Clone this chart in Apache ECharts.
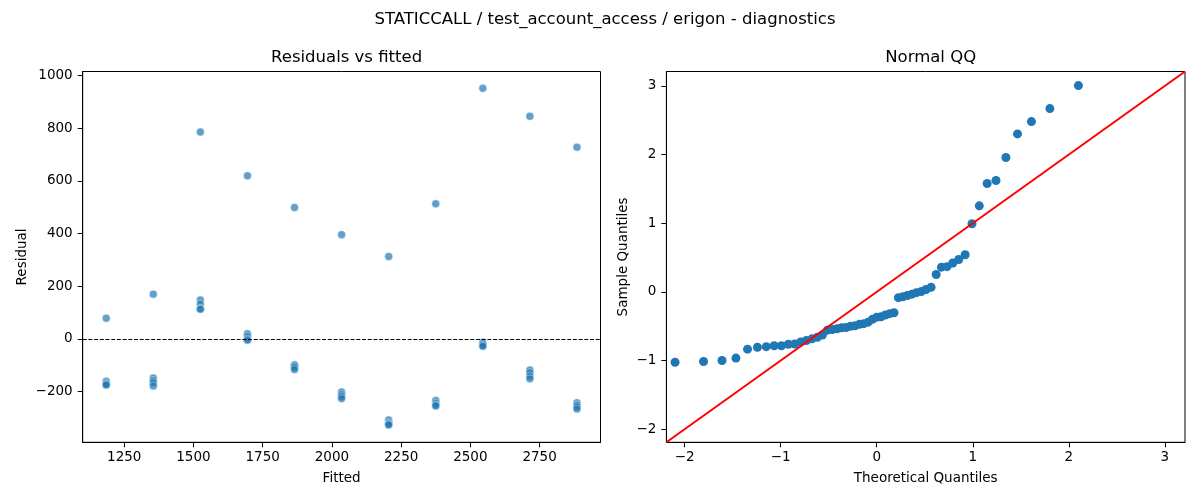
<!DOCTYPE html>
<html>
<head>
<meta charset="utf-8">
<script src="https://cdn.jsdelivr.net/npm/echarts@6/dist/echarts.min.js"></script>
<style>
html,body{margin:0;padding:0;background:#fff;}
#main{width:1200px;height:500px;}
</style>
</head>
<body>
<div id="main"></div>
<script>
// fitted levels and residuals at each level
var fittedLevels = [1185, 1355, 1525, 1695, 1865, 2035, 2205, 2375, 2545, 2715, 2885];
var residualsByLevel = [
	[79, -160, -167, -172, -175],
	[170, -148, -158, -166, -178],
	[785, 148, 132, 115, 113],
	[619, 20, 10, 0, -5],
	[499, -98, -102, -108, -116],
	[396, -201, -211, -218, -226],
	[313, -307, -318, -323, -326],
	[513, -233, -243, -250, -254],
	[951, -12, -18, -24, -28],
	[845, -118, -128, -141, -151],
	[728, -242, -250, -257, -266]
];

// normal QQ points
var theoreticalQ = [
	-2.100, -1.803, -1.611, -1.466, -1.345, -1.242, -1.150, -1.068, -0.992, -0.921,
	-0.854, -0.792, -0.732, -0.674, -0.619, -0.566, -0.514, -0.464, -0.414, -0.366,
	-0.319, -0.272, -0.226, -0.180, -0.135, -0.090, -0.045, 0.000, 0.045, 0.090,
	0.135, 0.180, 0.226, 0.272, 0.319, 0.366, 0.414, 0.464, 0.514, 0.566,
	0.619, 0.674, 0.732, 0.792, 0.854, 0.921, 0.992, 1.068, 1.150, 1.242,
	1.345, 1.466, 1.611, 1.803, 2.100
];
var sampleQ = [
	-1.024, -1.014, -0.998, -0.964, -0.834, -0.806, -0.797, -0.784, -0.784, -0.762,
	-0.759, -0.730, -0.708, -0.683, -0.661, -0.629, -0.557, -0.547, -0.538, -0.522,
	-0.519, -0.500, -0.494, -0.472, -0.462, -0.440, -0.399, -0.368, -0.361, -0.336,
	-0.317, -0.304, -0.084, -0.071, -0.052, -0.033, -0.011, 0.005, 0.036, 0.068,
	0.254, 0.361, 0.368, 0.421, 0.472, 0.541, 0.992, 1.254, 1.579, 1.623,
	1.957, 2.301, 2.481, 2.670, 3.005
];
var qqLineEnds = [[-2.19, -2.19], [3.21, 3.21]];

// tick labels
var fittedTicks = [1250, 1500, 1750, 2000, 2250, 2500, 2750];
var residualTicks = [-200, 0, 200, 400, 600, 800, 1000];
var qqTicks = [-2, -1, 0, 1, 2, 3];

var FONT = 'DejaVu Sans';
function minus(v){ return String(v).replace('-', '\u2212'); }

var residPoints = [];
fittedLevels.forEach(function(f, i){
	residualsByLevel[i].forEach(function(r){ residPoints.push([f, r]); });
});
var qqPoints = theoreticalQ.map(function(t, i){ return [t, sampleQ[i]]; });

function valueAxis(idx, min, max, ticks, name, gap){
	return {
		type: 'value', gridIndex: idx, min: min, max: max,
		name: name, nameLocation: 'middle', nameGap: gap,
		nameTextStyle: {color: '#000', fontFamily: FONT, fontSize: 13.5},
		axisLine: {show: true, onZero: false, lineStyle: {color: '#000', width: 1}},
		axisTick: {show: true, inside: false, length: 5, customValues: ticks, lineStyle: {color: '#000', width: 1}},
		axisLabel: {customValues: ticks, color: '#000', fontFamily: FONT, fontSize: 13.5, margin: 8, formatter: minus},
		splitLine: {show: false}
	};
}

var xa0 = valueAxis(0, 1100, 2970, fittedTicks, 'Fitted', 29);
var xa1 = valueAxis(1, -2.19, 3.21, qqTicks, 'Theoretical Quantiles', 29);
var ya0 = valueAxis(0, -392, 1015, residualTicks, 'Residual', 53);
var ya1 = valueAxis(1, -2.19, 3.21, qqTicks, 'Sample Quantiles', 36);
ya0.axisLabel.margin = 10;
ya1.axisLabel.margin = 10;

var option = {
	animation: false,
	backgroundColor: '#fff',
	title: [
		{text: 'STATICCALL / test_account_access / erigon - diagnostics', left: 600, top: 6, textAlign: 'center',
			textStyle: {color: '#000', fontFamily: FONT, fontSize: 16.5, fontWeight: 'normal'}},
		{text: 'Residuals vs fitted', left: 341.6, top: 44, textAlign: 'center',
			textStyle: {color: '#000', fontFamily: FONT, fontSize: 16.5, fontWeight: 'normal'}},
		{text: 'Normal QQ', left: 925.7, top: 44, textAlign: 'center',
			textStyle: {color: '#000', fontFamily: FONT, fontSize: 16.5, fontWeight: 'normal'}}
	],
	grid: [
		{left: 82.7, top: 71.5, width: 517.8, height: 370.8, show: true, borderColor: '#000', borderWidth: 1, containLabel: false},
		{left: 666.4, top: 71.5, width: 518.6, height: 370.8, show: true, borderColor: '#000', borderWidth: 1, containLabel: false}
	],
	xAxis: [xa0, xa1],
	yAxis: [ya0, ya1],
	series: [
		{
			type: 'scatter', xAxisIndex: 0, yAxisIndex: 0,
			data: residPoints, symbolSize: 8,
			itemStyle: {color: '#1f77b4', opacity: 0.7, borderColor: '#fff', borderWidth: 0.6},
			markLine: {
				silent: true, symbol: 'none', animation: false,
				label: {show: false},
				lineStyle: {color: '#000', type: [4, 1.7], width: 1.2, opacity: 1},
				data: [{yAxis: 0}]
			}
		},
		{
			type: 'scatter', xAxisIndex: 1, yAxisIndex: 1,
			data: qqPoints, symbolSize: 9,
			itemStyle: {color: '#1f77b4', opacity: 1}
		},
		{
			type: 'line', xAxisIndex: 1, yAxisIndex: 1,
			data: qqLineEnds, symbol: 'none', z: 5,
			lineStyle: {color: '#ff0000', width: 2}
		}
	]
};
echarts.init(document.getElementById('main')).setOption(option);
</script>
</body>
</html>
